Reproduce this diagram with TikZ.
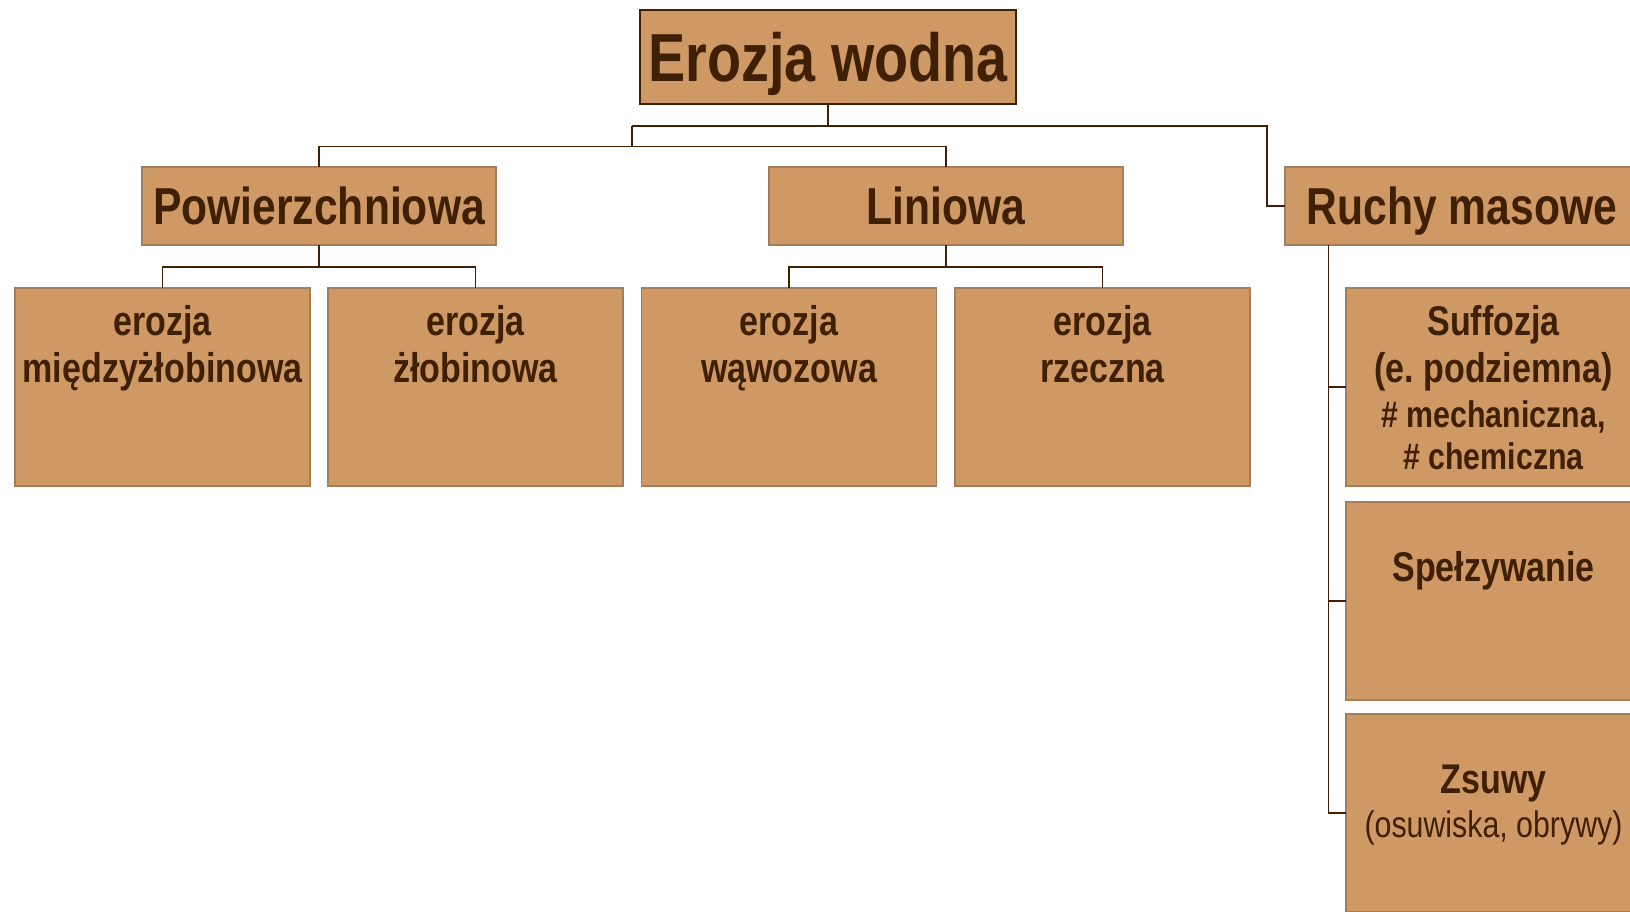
\documentclass[tikz,border=0pt]{standalone}
\usepackage{fontspec}
\setmainfont{Liberation Sans}[FakeStretch=0.82]
\usetikzlibrary{calc,positioning}

\definecolor{boxfill}{RGB}{207,153,102}
\definecolor{darkbrown}{RGB}{64,32,5}
\definecolor{rimbrown}{RGB}{163,126,90}

\begin{document}
\begin{tikzpicture}[x=1pt,y=-1pt]

\useasboundingbox (0,0) rectangle (1630,911);
\clip (0,0) rectangle (1630,911);

\tikzstyle{box}=[draw=rimbrown,fill=boxfill,line width=1.5pt,inner sep=0pt,outer sep=0pt,text=darkbrown]
\tikzstyle{head}=[box,minimum width=354pt,minimum height=78pt,font=\bfseries\fontsize{52}{60}\selectfont,text height=37.2pt,text depth=0pt]
\tikzstyle{leaf}=[box,minimum width=295pt,minimum height=198pt]
\tikzstyle{txt}=[inner sep=0pt,outer sep=0pt,align=center,text=darkbrown,font=\bfseries\fontsize{41.5}{47}\selectfont]
\tikzstyle{conn}=[draw=darkbrown,line width=1.5pt]

\node (root) [box,draw=darkbrown,line width=2pt,minimum width=376pt,minimum height=94pt,font=\bfseries\fontsize{68}{80}\selectfont,text height=48.7pt,text depth=0pt] at (828,57) {Erozja wodna};

\node (pow) [head] at (319,206) {Powierzchniowa};
\node (lin) [head] at (946,206) {Liniowa};
\node (ruch) [head] at (1462,206) {Ruchy masowe};

\node (miedzy) [leaf] at (162.5,387) {};
\node (zlob) [leaf] at (475.5,387) {};
\node (wawoz) [leaf] at (789,387) {};
\node (rzecz) [leaf] at (1102.5,387) {};

\node (suff) [leaf] at (1493.5,387) {};
\node (spelz) [leaf] at (1493.5,601) {};
\node (zsuw) [leaf] at (1493.5,813) {};

% opisy w ramkach
\node (miedzyT) [txt,below=17pt of miedzy.north] {erozja\\międzyżłobinowa};
\node (zlobT) [txt,below=17pt of zlob.north] {erozja\\żłobinowa};
\node (wawozT) [txt,below=17pt of wawoz.north] {erozja\\wąwozowa};
\node (rzeczT) [txt,below=17pt of rzecz.north] {erozja\\rzeczna};
\node (suffT) [txt,below=17pt of suff.north] {Suffozja\\(e.\ podziemna)\\[-2pt]{\fontsize{37}{43}\selectfont\# mechaniczna,}\\[-5pt]{\fontsize{37}{43}\selectfont\# chemiczna}};
\node (spelzT) [txt,below=49pt of spelz.north] {Spełzywanie};
\node (zsuwT) [txt,below=51pt of zsuw.north] {Zsuwy\\[-3pt]{\mdseries\fontsize{37}{43}\selectfont(osuwiska, obrywy)}};

% polaczenia
\coordinate (upbus) at (632,126);
\coordinate (lowbus) at (632,146.5);
\coordinate (rbend) at (1267,126);
\draw [conn] (root.south) -- (root.south |- upbus);
\draw [conn] (upbus) -- (rbend) |- (ruch.west);
\draw [conn] (upbus) -- (lowbus);
\draw [conn] (pow.north) |- (lowbus) -| (lin.north);

\draw [conn] (pow.south) -- ++(0,22) coordinate (powbus);
\draw [conn] (miedzy.north) |- (powbus) -| (zlob.north);
\draw [conn] (lin.south) -- ++(0,22) coordinate (linbus);
\draw [conn] (wawoz.north) |- (linbus) -| (rzecz.north);

\coordinate (trunk) at (1328.5,245);
\draw [conn] (trunk) |- (suff.west);
\draw [conn] (trunk) |- (spelz.west);
\draw [conn] (trunk) |- (zsuw.west);

\end{tikzpicture}
\end{document}
